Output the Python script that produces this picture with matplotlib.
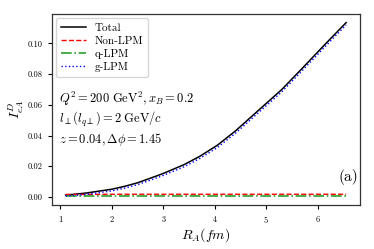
import matplotlib
matplotlib.use("Agg")
import matplotlib.pyplot as plt

plt.rcParams["mathtext.fontset"] = "cm"
plt.rcParams["font.family"] = "cmr10"
plt.rcParams["axes.formatter.use_mathtext"] = True

# R_A (fm) and the four contributions
r_a = [1.1, 1.5, 2.0, 2.25, 2.5, 2.75, 3.0, 3.4, 3.7, 4.05, 4.4, 4.7, 5.0,
       5.3, 5.66, 6.0, 6.3, 6.55]
total = [0.0011, 0.0025, 0.0050, 0.0069, 0.0092, 0.0122, 0.0153, 0.0210,
         0.0263, 0.0337, 0.0430, 0.0520, 0.0610, 0.0700, 0.0825, 0.0945,
         0.1050, 0.1136]
non_lpm = [0.0016, 0.0016, 0.0017, 0.0017, 0.0017, 0.0017, 0.0017, 0.0017,
           0.0017, 0.0017, 0.0017, 0.0017, 0.0017, 0.0017, 0.0017, 0.0017,
           0.0017, 0.0017]
q_lpm = [0.0004, 0.0004, 0.0004, 0.0004, 0.0004, 0.0004, 0.0004, 0.0004,
         0.0004, 0.0004, 0.0004, 0.0004, 0.0004, 0.0004, 0.0004, 0.0004,
         0.0004, 0.0004]
g_lpm = [0.0005, 0.0016, 0.0039, 0.0057, 0.0080, 0.0109, 0.0140, 0.0196,
         0.0249, 0.0322, 0.0415, 0.0505, 0.0595, 0.0685, 0.0810, 0.0930,
         0.1035, 0.1121]

fig = plt.figure(figsize=(3.74, 2.49), dpi=100)
ax = fig.add_axes([0.138, 0.177, 0.825, 0.767])

ax.plot(r_a, total, color="black", lw=1.1, label="Total")
ax.plot(r_a, non_lpm, color="red", lw=1.0, ls="--", label="Non-LPM")
ax.plot(r_a, q_lpm, color="#2ca02c", lw=1.2, ls="-.", label="q-LPM")
ax.plot(r_a, g_lpm, color="blue", lw=1.0, ls=":", label="g-LPM")

ax.set_xticks([1, 2, 3, 4, 5, 6])
ax.set_yticks([0.0, 0.02, 0.04, 0.06, 0.08, 0.10])
ax.set_yticklabels(["0.00", "0.02", "0.04", "0.06", "0.08", "0.10"])
ax.tick_params(labelsize=6, length=3, width=0.8)
for s in ax.spines.values():
    s.set_linewidth(0.9)
    s.set_color("#333333")

ax.set_xlabel(r"$R_A(fm)$", fontsize=10, labelpad=1)
ax.set_ylabel(r"$I^D_{eA}$", fontsize=10, labelpad=1)

ax.legend(loc="upper left", fontsize=8, handlelength=2.3, borderaxespad=0.4,
          labelspacing=0.3, framealpha=0.8)

ax.text(0.025, 0.555, r"$Q^2=200\ \mathrm{GeV}^2, x_B=0.2$", transform=ax.transAxes,
        fontsize=9, va="center")
ax.text(0.025, 0.445, r"$l_\perp(l_{q\perp})=2\ \mathrm{GeV}/c$", transform=ax.transAxes,
        fontsize=9, va="center")
ax.text(0.025, 0.345, r"$z=0.04, \Delta\phi=1.45$", transform=ax.transAxes,
        fontsize=9, va="center")
ax.text(0.993, 0.148, "(a)", transform=ax.transAxes, fontsize=11,
        ha="right", va="center")

fig.savefig("out.png", dpi=100)
